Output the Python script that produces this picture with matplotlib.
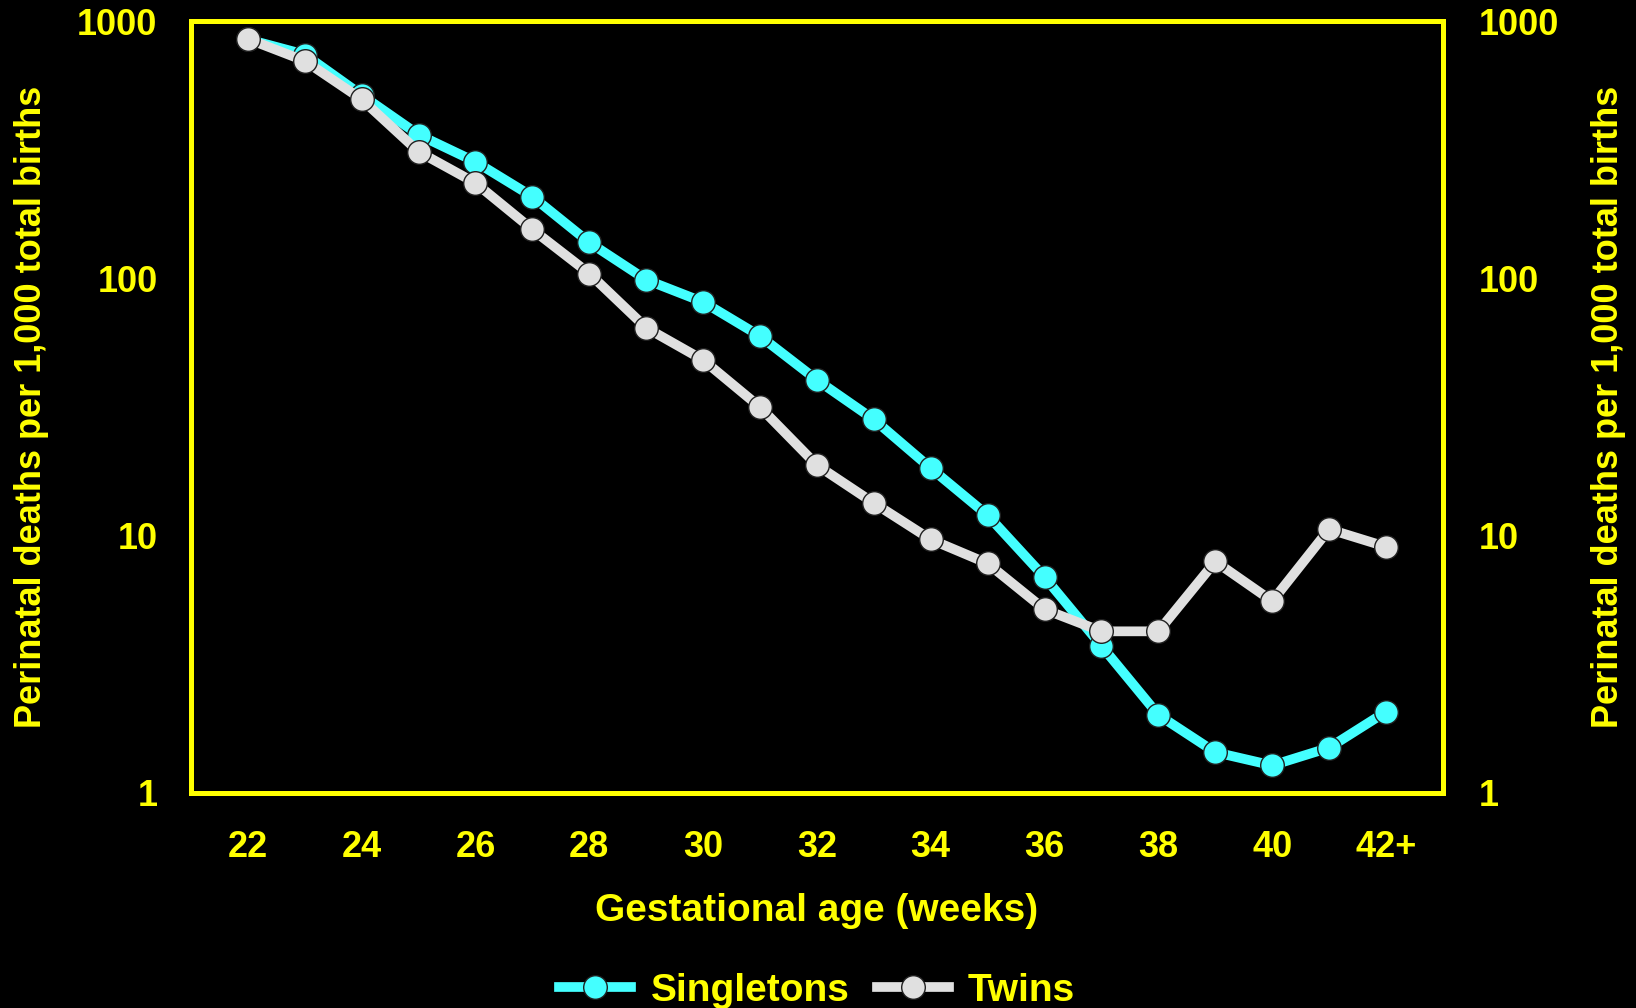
import matplotlib
matplotlib.use('Agg')
import matplotlib.pyplot as plt
from matplotlib.ticker import FixedLocator, NullLocator

# gestational age in weeks (42 means 42+)
weeks = [22, 23, 24, 25, 26, 27, 28, 29, 30, 31, 32,
         33, 34, 35, 36, 37, 38, 39, 40, 41, 42]
singletons = [850, 742, 516, 362, 284, 208, 138, 98.8, 81, 59.7, 40.3,
              28.3, 18.3, 12.0, 6.9, 3.73, 2.01, 1.44, 1.28, 1.50, 2.07]
twins = [853, 701, 497, 311, 235, 155, 104.5, 64.3, 48.2, 31.6, 18.8,
         13.4, 9.67, 7.8, 5.17, 4.25, 4.25, 7.94, 5.57, 10.6, 9.06]

x_ticks = [22, 24, 26, 28, 30, 32, 34, 36, 38, 40, 42]
x_labels = ['22', '24', '26', '28', '30', '32', '34', '36', '38', '40', '42+']
y_ticks = [1, 10, 100, 1000]
y_labels = ['1', '10', '100', '1000']

YEL = '#FFFF00'
CYAN = '#44FFFF'
GREY = '#E0E0E0'

plt.rcParams['font.family'] = ['Liberation Sans', 'DejaVu Sans']
plt.rcParams['font.weight'] = 'bold'

fig = plt.figure(figsize=(16.36, 10.08), dpi=100, facecolor='black')
ax = fig.add_axes([0.1167, 0.2133, 0.7653, 0.7657])
ax.set_facecolor('black')

ax.plot(weeks, singletons, color=CYAN, lw=7, marker='o', ms=17,
        mfc=CYAN, mec='#202020', mew=1, label='Singletons', zorder=3)
ax.plot(weeks, twins, color=GREY, lw=7, marker='o', ms=17,
        mfc=GREY, mec='#202020', mew=1, label='Twins', zorder=4)

ax.set_yscale('log')
ax.set_ylim(1, 1000)
ax.set_xlim(21, 43)
ax.yaxis.set_major_locator(FixedLocator(y_ticks))
ax.yaxis.set_minor_locator(NullLocator())
ax.set_yticklabels(y_labels)
ax.set_xticks(x_ticks)
ax.set_xticklabels(x_labels)
ax.tick_params(length=0, colors=YEL, labelsize=26)
ax.tick_params(axis='x', pad=27)
ax.tick_params(axis='y', pad=24)
for s in ax.spines.values():
    s.set_color(YEL)
    s.set_linewidth(3.6)

ax.set_xlabel('Gestational age (weeks)', color=YEL, fontsize=28,
              fontweight='bold', labelpad=20)
ax.set_ylabel('Perinatal deaths per 1,000 total births', color=YEL,
              fontsize=26, fontweight='bold', labelpad=20)

ax2 = ax.twinx()
ax2.set_yscale('log')
ax2.set_ylim(1, 1000)
ax2.yaxis.set_major_locator(FixedLocator(y_ticks))
ax2.yaxis.set_minor_locator(NullLocator())
ax2.set_yticklabels(y_labels)
ax2.tick_params(length=0, colors=YEL, labelsize=26, pad=26)
for s in ax2.spines.values():
    s.set_visible(False)
ax2.set_ylabel('Perinatal deaths per 1,000 total births', color=YEL,
               fontsize=26, fontweight='bold', rotation=90, labelpad=23)

h, l = ax.get_legend_handles_labels()
leg = fig.legend(h, l, loc='center', bbox_to_anchor=(0.4995, 0.017), ncol=2,
                 frameon=False, fontsize=28, handlelength=1.85,
                 columnspacing=0.7, handletextpad=0.5, borderpad=0)
for t in leg.get_texts():
    t.set_color(YEL)

fig.savefig('out.png', dpi=100, facecolor='black')
